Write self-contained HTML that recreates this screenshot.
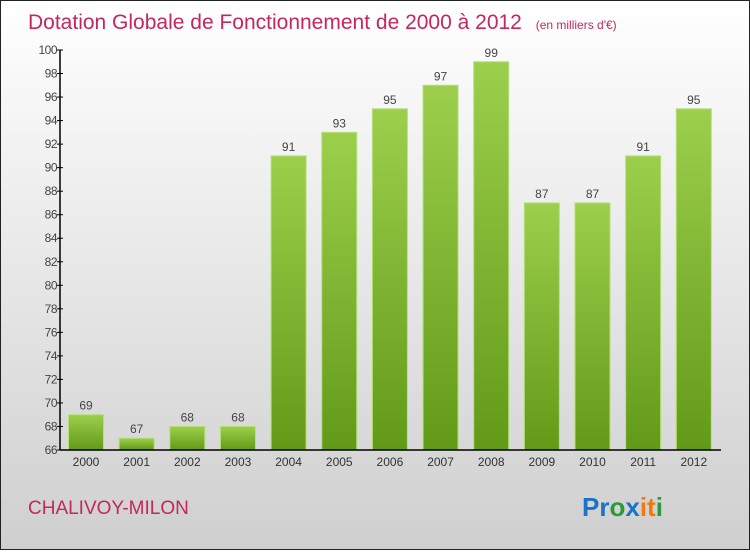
<!DOCTYPE html>
<html><head><meta charset="utf-8"><style>
body{margin:0}
svg text{font-family:"Liberation Sans",sans-serif}
</style></head><body>
<svg id="c" width="750" height="550" xmlns="http://www.w3.org/2000/svg">
<defs>
<linearGradient id="bg" x1="0" y1="0" x2="0" y2="1"><stop offset="0" stop-color="#ffffff"/><stop offset="1" stop-color="#cfcfcf"/></linearGradient>
<linearGradient id="bar" x1="0" y1="0" x2="0" y2="1"><stop offset="0" stop-color="#9ccf4c"/><stop offset="1" stop-color="#629a18"/></linearGradient>
</defs>
<rect x="0.5" y="0.5" width="749" height="549" fill="url(#bg)" stroke="#222"/>
<text x="28" y="29" font-size="21" fill="#c4285a">Dotation Globale de Fonctionnement de 2000 à 2012 <tspan font-size="12" dx="8">(en milliers d'€)</tspan></text>
<text x="28" y="514" font-size="19" fill="#c4285a">CHALIVOY-MILON</text>
<text x="582" y="516" font-size="26" font-weight="bold"><tspan fill="#1a73c8">Pr</tspan><tspan fill="#2a9a3a">o</tspan><tspan fill="#1a73c8">x</tspan><tspan fill="#f07a10">it</tspan><tspan fill="#2a9a3a">i</tspan></text>
<g id="plot"></g>
</svg>
<script>
const categories=["2000","2001","2002","2003","2004","2005","2006","2007","2008","2009","2010","2011","2012"];
const values=[69,67,68,68,91,93,95,97,99,87,87,91,95];
const yTicks=[66,68,70,72,74,76,78,80,82,84,86,88,90,92,94,96,98,100];
const NS="http://www.w3.org/2000/svg";
const g=document.getElementById('plot');
const y0=450,y1=50,vmin=66,vmax=100,x0=60,x1=721;
const ys=v=>y0-(v-vmin)/(vmax-vmin)*(y0-y1);
const step=50.65,first=86,bw=35;
const xs=i=>first+i*step;
function mk(t,a){const e=document.createElementNS(NS,t);for(const k in a)e.setAttribute(k,a[k]);g.appendChild(e);return e;}
values.forEach((v,i)=>{
 const r=mk('rect',{x:xs(i)-bw/2,y:ys(v),width:bw,height:y0-ys(v),fill:'url(#bar)',stroke:'#b5e07a','stroke-width':1});
 
 
 const t=mk('text',{x:xs(i),y:ys(v)-5,'text-anchor':'middle','font-size':12,fill:'#444'});
 t.textContent=v;
 
 
 const c=mk('text',{x:xs(i),y:466,'text-anchor':'middle','font-size':12,fill:'#333'});
 c.textContent=categories[i];
 
 
});
yTicks.forEach(v=>{
 const l=mk('line',{x1:x0-3,x2:x0+3,y1:ys(v),y2:ys(v),stroke:'#000'});
 
 
 const t=mk('text',{x:x0-3,y:ys(v)+4,'text-anchor':'end','font-size':12,fill:'#444','letter-spacing':'-0.5'});
 t.textContent=v;
 
 
});
const ya=mk('line',{x1:x0,x2:x0,y1:y1,y2:y0,stroke:'#000','stroke-width':1.5});


const xa=mk('line',{x1:x0,x2:x1,y1:y0,y2:y0,stroke:'#000','stroke-width':1.5});


</script>
</body></html>
